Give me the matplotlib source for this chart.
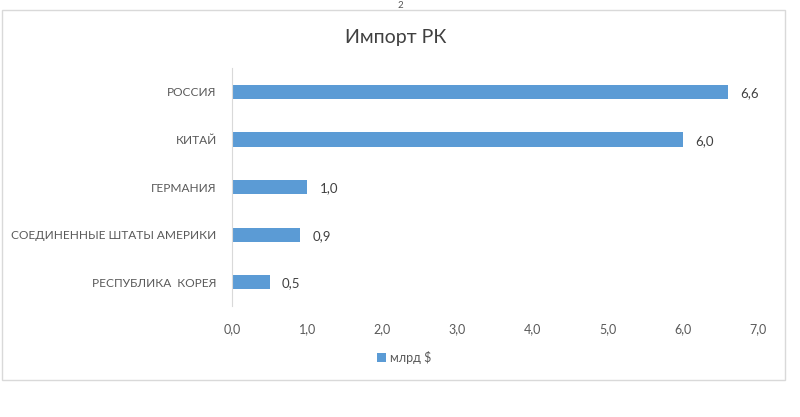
import matplotlib.pyplot as plt
from matplotlib.patches import Rectangle

plt.rcParams['font.family'] = ['Lato', 'DejaVu Sans']

countries = ["РОССИЯ", "КИТАЙ", "ГЕРМАНИЯ", "СОЕДИНЕННЫЕ ШТАТЫ АМЕРИКИ", "РЕСПУБЛИКА  КОРЕЯ"]
values = [6.6, 6.0, 1.0, 0.9, 0.5]
xticks = [0, 1, 2, 3, 4, 5, 6, 7]

fig = plt.figure(figsize=(8, 4.17), dpi=100)
ax = fig.add_axes([0.29, 0.266, 0.6575, 0.571])

# outer chart border
fig.patches.append(Rectangle((2/800, 1-380/417), 783/800, 370/417, transform=fig.transFigure,
                             fill=False, edgecolor='#d9d9d9', linewidth=1))
fig.text(0.5, 0.987, "2", ha='center', va='center', fontsize=7, color='#555555')

pos = list(range(len(countries)))
ax.barh(pos, values, height=0.3, color='#5b9bd5', label='млрд $')
ax.set_ylim(len(countries) - 0.5, -0.5)
ax.set_yticks(pos)
ax.set_yticklabels(countries)
ax.set_xlim(0, 7)
ax.set_xticks(xticks)
ax.set_xticklabels([f"{t:.1f}".replace('.', ',') for t in xticks])

for i, v in enumerate(values):
    ax.annotate(f"{v:.1f}".replace('.', ','), (v, i), xytext=(9, -1), textcoords='offset points',
                ha='left', va='center', fontsize=9.5, color='#404040')

for s in ['top', 'right', 'bottom']:
    ax.spines[s].set_visible(False)
ax.spines['left'].set_color('#d9d9d9')
ax.tick_params(axis='both', length=0, labelcolor='#595959')
ax.tick_params(axis='y', pad=11, labelsize=8.6)
ax.tick_params(axis='x', pad=12, labelsize=9)

fig.text(0.494, 0.91, "Импорт РК", ha='center', va='center', fontsize=14, color='#404040')
fig.legend(loc='center', bbox_to_anchor=(0.505, 1-357/417), frameon=False, fontsize=9,
           handlelength=0.7, handleheight=0.7, handletextpad=0.3, labelcolor='#595959')

fig.savefig('out.png', dpi=100)
